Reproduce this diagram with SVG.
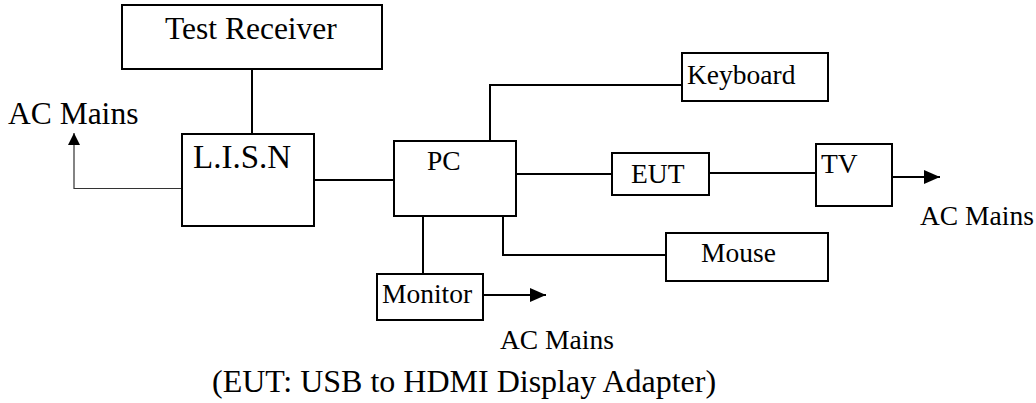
<svg xmlns="http://www.w3.org/2000/svg" width="1036" height="403" viewBox="0 0 1036 403">
<defs>
<style>
.box{fill:#fff;stroke:#000;stroke-width:2}
.ln{fill:none;stroke:#000;stroke-width:2}
.thin{fill:none;stroke:#333;stroke-width:1.2}
.t{font-family:"Liberation Serif","Times New Roman",serif;font-size:27.5px;fill:#000}
.big{font-size:31.5px}
</style>
<marker id="ah" viewBox="0 0 16 14" refX="16" refY="7" markerWidth="16" markerHeight="14" markerUnits="userSpaceOnUse" orient="auto">
<path d="M0,0 L16,7 L0,14 Z" fill="#000"/>
</marker>
<marker id="ahs" viewBox="0 0 12 20" refX="12" refY="10" markerWidth="12" markerHeight="20" markerUnits="userSpaceOnUse" orient="auto">
<path d="M0,4 L12,10 L0,16 Z" fill="#000"/>
</marker>
</defs>
<rect width="1036" height="403" fill="#fff"/>
<g id="connectors">
<line class="ln" x1="252" y1="70" x2="252" y2="134"/>
<line class="ln" x1="313" y1="180" x2="394" y2="180"/>
<polyline class="thin" points="182,188.5 74,188.5 74,133" marker-end="url(#ahs)"/>
<polyline class="ln" points="490,141 490,85 682,85"/>
<line class="ln" x1="514" y1="174" x2="612" y2="174"/>
<line class="ln" x1="709" y1="173" x2="816" y2="173"/>
<line class="ln" x1="892" y1="177" x2="940" y2="177" marker-end="url(#ah)"/>
<polyline class="ln" points="503,216 503,255 666,255"/>
<line class="ln" x1="423" y1="216" x2="423" y2="274"/>
<line class="ln" x1="483" y1="295" x2="546" y2="295" marker-end="url(#ah)"/>
</g>
<g id="test-receiver">
<rect class="box" x="122" y="5" width="260" height="64"/>
<text class="t big" x="165" y="39">Test Receiver</text>
</g>
<g id="lisn">
<rect class="box" x="182" y="134" width="132" height="92"/>
<text class="t" x="193" y="168" style="font-size:33px">L.I.S.N</text>
</g>
<g id="ac-mains-left">
<text class="t big" x="8" y="124">AC Mains</text>
</g>
<g id="pc">
<rect class="box" x="394" y="141" width="122" height="75"/>
<text class="t" x="427" y="170">PC</text>
</g>
<g id="keyboard">
<rect class="box" x="682" y="53" width="146" height="48"/>
<text class="t" x="687" y="84">Keyboard</text>
</g>
<g id="eut">
<rect class="box" x="612" y="153" width="97" height="42"/>
<text class="t" x="631" y="183">EUT</text>
</g>
<g id="tv">
<rect class="box" x="816" y="144" width="76" height="62"/>
<text class="t" x="821" y="173">TV</text>
</g>
<g id="ac-mains-right">
<text class="t" x="920" y="225">AC Mains</text>
</g>
<g id="mouse">
<rect class="box" x="666" y="233" width="162" height="48"/>
<text class="t" x="701" y="262">Mouse</text>
</g>
<g id="monitor">
<rect class="box" x="377" y="274" width="106" height="46"/>
<text class="t" x="382" y="303">Monitor</text>
</g>
<g id="ac-mains-bottom">
<text class="t" x="500" y="349">AC Mains</text>
</g>
<g id="caption">
<text class="t" x="212" y="392" style="font-size:32px">(EUT: USB to HDMI Display Adapter)</text>
</g>
</svg>
